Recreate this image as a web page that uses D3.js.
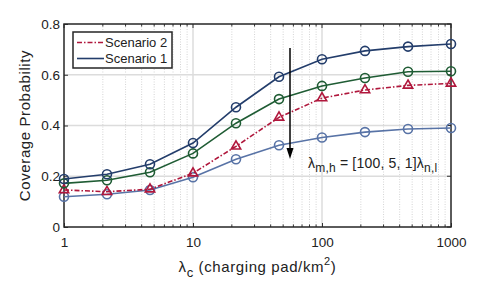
<!DOCTYPE html>
<html>
<head>
<meta charset="utf-8">
<script src="https://cdn.jsdelivr.net/npm/d3@7"></script>
<style>
  body { margin: 0; background: #fff; }
  text { font-family: "Liberation Sans", Arial, sans-serif; fill: #222; }
</style>
</head>
<body>
<svg id="chart" width="498" height="283"></svg>
<script>
var lambdaC = [1, 2.154, 4.642, 10, 21.54, 46.42, 100, 215.4, 464.2, 1000];
var scenario1 = [0.189, 0.208, 0.247, 0.331, 0.472, 0.592, 0.661, 0.694, 0.711, 0.721];
var middle = [0.172, 0.184, 0.216, 0.290, 0.409, 0.504, 0.556, 0.587, 0.612, 0.614];
var scenario2 = [0.146, 0.139, 0.149, 0.212, 0.318, 0.432, 0.508, 0.540, 0.558, 0.566];
var lower = [0.119, 0.129, 0.146, 0.196, 0.267, 0.322, 0.353, 0.374, 0.386, 0.390];
var xTicks = [1, 10, 100, 1000];
var yTicks = [0, 0.2, 0.4, 0.6, 0.8];

var margin = {top: 24, right: 47, bottom: 56, left: 64},
    width = 498 - margin.left - margin.right,
    height = 283 - margin.top - margin.bottom;

var svg = d3.select("#chart");
var g = svg.append("g")
    .attr("transform", "translate(" + margin.left + "," + margin.top + ")");

var x = d3.scaleLog().domain([1, 1000]).range([0, width]);
var y = d3.scaleLinear().domain([0, 0.8]).range([height, 0]);

// minor values between decades
var minor = [];
[1, 10, 100].forEach(function(d) {
  for (var k = 2; k <= 9; k++) minor.push(d * k);
});

// minor grid, dotted
g.selectAll(".minor-grid")
    .data(minor)
    .enter().append("line")
    .attr("x1", function(d) { return x(d); })
    .attr("x2", function(d) { return x(d); })
    .attr("y1", 0).attr("y2", height)
    .attr("stroke", "#d4d4d4")
    .attr("stroke-width", 1)
    .attr("stroke-dasharray", "1,1.5");

// major grid
g.selectAll(".xgrid")
    .data(xTicks.slice(1, 3))
    .enter().append("line")
    .attr("x1", function(d) { return x(d); })
    .attr("x2", function(d) { return x(d); })
    .attr("y1", 0).attr("y2", height)
    .attr("stroke", "#dcdcdc").attr("stroke-width", 1.5);

g.selectAll(".ygrid")
    .data(yTicks.slice(1, 4))
    .enter().append("line")
    .attr("x1", 0).attr("x2", width)
    .attr("y1", function(d) { return y(d); })
    .attr("y2", function(d) { return y(d); })
    .attr("stroke", "#dcdcdc").attr("stroke-width", 1.5);

// axes, ticks pointing inward
var xAxis = d3.axisBottom(x).tickValues(xTicks).tickFormat(d3.format("d")).tickSizeInner(-4).tickSizeOuter(0).tickPadding(10);
var yAxis = d3.axisLeft(y).tickValues(yTicks).tickFormat(function(d) { return d === 0 ? "0" : d3.format(".1f")(d); }).tickSizeInner(-4).tickSizeOuter(0).tickPadding(4);

var xa = g.append("g").attr("transform", "translate(0," + height + ")").call(xAxis);
var ya = g.append("g").call(yAxis);
[xa, ya].forEach(function(a) {
  a.select(".domain").remove();
  a.selectAll("text").style("font-size", "13.5px").style("font-family", "Liberation Sans, Arial, sans-serif").attr("fill", "#222");
  a.selectAll("line").attr("stroke", "#333");
});

// minor ticks top/bottom
g.selectAll(".mtb")
    .data(minor)
    .enter().append("line")
    .attr("x1", function(d) { return x(d); })
    .attr("x2", function(d) { return x(d); })
    .attr("y1", height).attr("y2", height - 2.5)
    .attr("stroke", "#333");
g.selectAll(".mtt")
    .data(minor.concat(xTicks))
    .enter().append("line")
    .attr("x1", function(d) { return x(d); })
    .attr("x2", function(d) { return x(d); })
    .attr("y1", 0).attr("y2", function(d) { return xTicks.indexOf(d) >= 0 ? 4 : 2.5; })
    .attr("stroke", "#333");
g.selectAll(".rt")
    .data(yTicks)
    .enter().append("line")
    .attr("x1", width).attr("x2", width - 4)
    .attr("y1", function(d) { return y(d); })
    .attr("y2", function(d) { return y(d); })
    .attr("stroke", "#333");

// frame
g.append("rect")
    .attr("width", width).attr("height", height)
    .attr("fill", "none").attr("stroke", "#262626").attr("stroke-width", 1.5);

var line = d3.line()
    .x(function(d, i) { return x(lambdaC[i]); })
    .y(function(d) { return y(d); });

var series = [
  {values: lower, color: "#5873a6", dash: null, marker: "circle"},
  {values: scenario2, color: "#b0173c", dash: "5,2,1.5,2", marker: "triangle"},
  {values: middle, color: "#1f5c34", dash: null, marker: "circle"},
  {values: scenario1, color: "#233d6b", dash: null, marker: "circle"}
];

series.forEach(function(s) {
  g.append("path")
      .datum(s.values)
      .attr("fill", "none")
      .attr("stroke", s.color)
      .attr("stroke-width", 1.6)
      .attr("stroke-dasharray", s.dash)
      .attr("d", line);
  if (s.marker === "circle") {
    g.selectAll(null)
        .data(s.values)
        .enter().append("circle")
        .attr("cx", function(d, i) { return x(lambdaC[i]); })
        .attr("cy", function(d) { return y(d); })
        .attr("r", 4.5)
        .attr("fill", "none")
        .attr("stroke", s.color)
        .attr("stroke-width", 1.6);
  } else {
    g.selectAll(null)
        .data(s.values)
        .enter().append("path")
        .attr("transform", function(d, i) { return "translate(" + x(lambdaC[i]) + "," + y(d) + ")"; })
        .attr("d", d3.symbol(d3.symbolTriangle, 38))
        .attr("fill", "none")
        .attr("stroke", s.color)
        .attr("stroke-width", 1.6);
  }
});

// arrow
var ax = 290 - margin.left;
g.append("line")
    .attr("x1", ax).attr("x2", ax)
    .attr("y1", 48 - margin.top).attr("y2", 152 - margin.top)
    .attr("stroke", "#000").attr("stroke-width", 1.5);
g.append("path")
    .attr("d", "M" + (ax - 3.5) + "," + (148 - margin.top) + " L" + ax + "," + (159 - margin.top) + " L" + (ax + 3.5) + "," + (148 - margin.top) + " Z")
    .attr("fill", "#000");

// annotation
var ann = g.append("text")
    .attr("x", 308 - margin.left).attr("y", 168 - margin.top)
    .style("font-size", "14px")
    .style("letter-spacing", "0.2px");
ann.append("tspan").text("λ");
ann.append("tspan").attr("dy", 4).style("font-size", "12px").text("m,h");
ann.append("tspan").attr("dy", -4).text(" = [100, 5, 1]λ");
ann.append("tspan").attr("dy", 4).style("font-size", "12px").text("n,l");

// legend
var lg = g.append("g").attr("transform", "translate(" + (73 - margin.left) + "," + (32 - margin.top) + ")");
lg.append("rect")
    .attr("width", 99).attr("height", 36)
    .attr("fill", "#fff").attr("stroke", "#262626").attr("stroke-width", 1.5);
[{label: "Scenario 2", color: "#b0173c", dash: "5,2,1.5,2"},
 {label: "Scenario 1", color: "#233d6b", dash: null}].forEach(function(d, i) {
  var yy = 10.5 + i * 16;
  lg.append("line")
      .attr("x1", 4).attr("x2", 31)
      .attr("y1", yy).attr("y2", yy)
      .attr("stroke", d.color).attr("stroke-width", 1.6)
      .attr("stroke-dasharray", d.dash);
  lg.append("text")
      .attr("x", 32).attr("y", yy + 4.5)
      .style("font-size", "13px")
      .text(d.label);
});

// axis labels
var xl = svg.append("text")
    .attr("x", margin.left + width / 2).attr("y", 272)
    .attr("text-anchor", "middle")
    .style("font-size", "15px")
    .style("letter-spacing", "0.6px");
xl.append("tspan").text("λ");
xl.append("tspan").attr("dy", 5).style("font-size", "13px").text("c");
xl.append("tspan").attr("dy", -5).text(" (charging pad/km");
xl.append("tspan").attr("dy", -7).style("font-size", "11px").text("2");
xl.append("tspan").attr("dy", 7).text(")");

svg.append("text")
    .attr("transform", "translate(30," + (margin.top + height / 2) + ") rotate(-90)")
    .attr("text-anchor", "middle")
    .style("font-size", "15px")
    .style("letter-spacing", "0.6px")
    .text("Coverage Probability");
</script>
</body>
</html>
